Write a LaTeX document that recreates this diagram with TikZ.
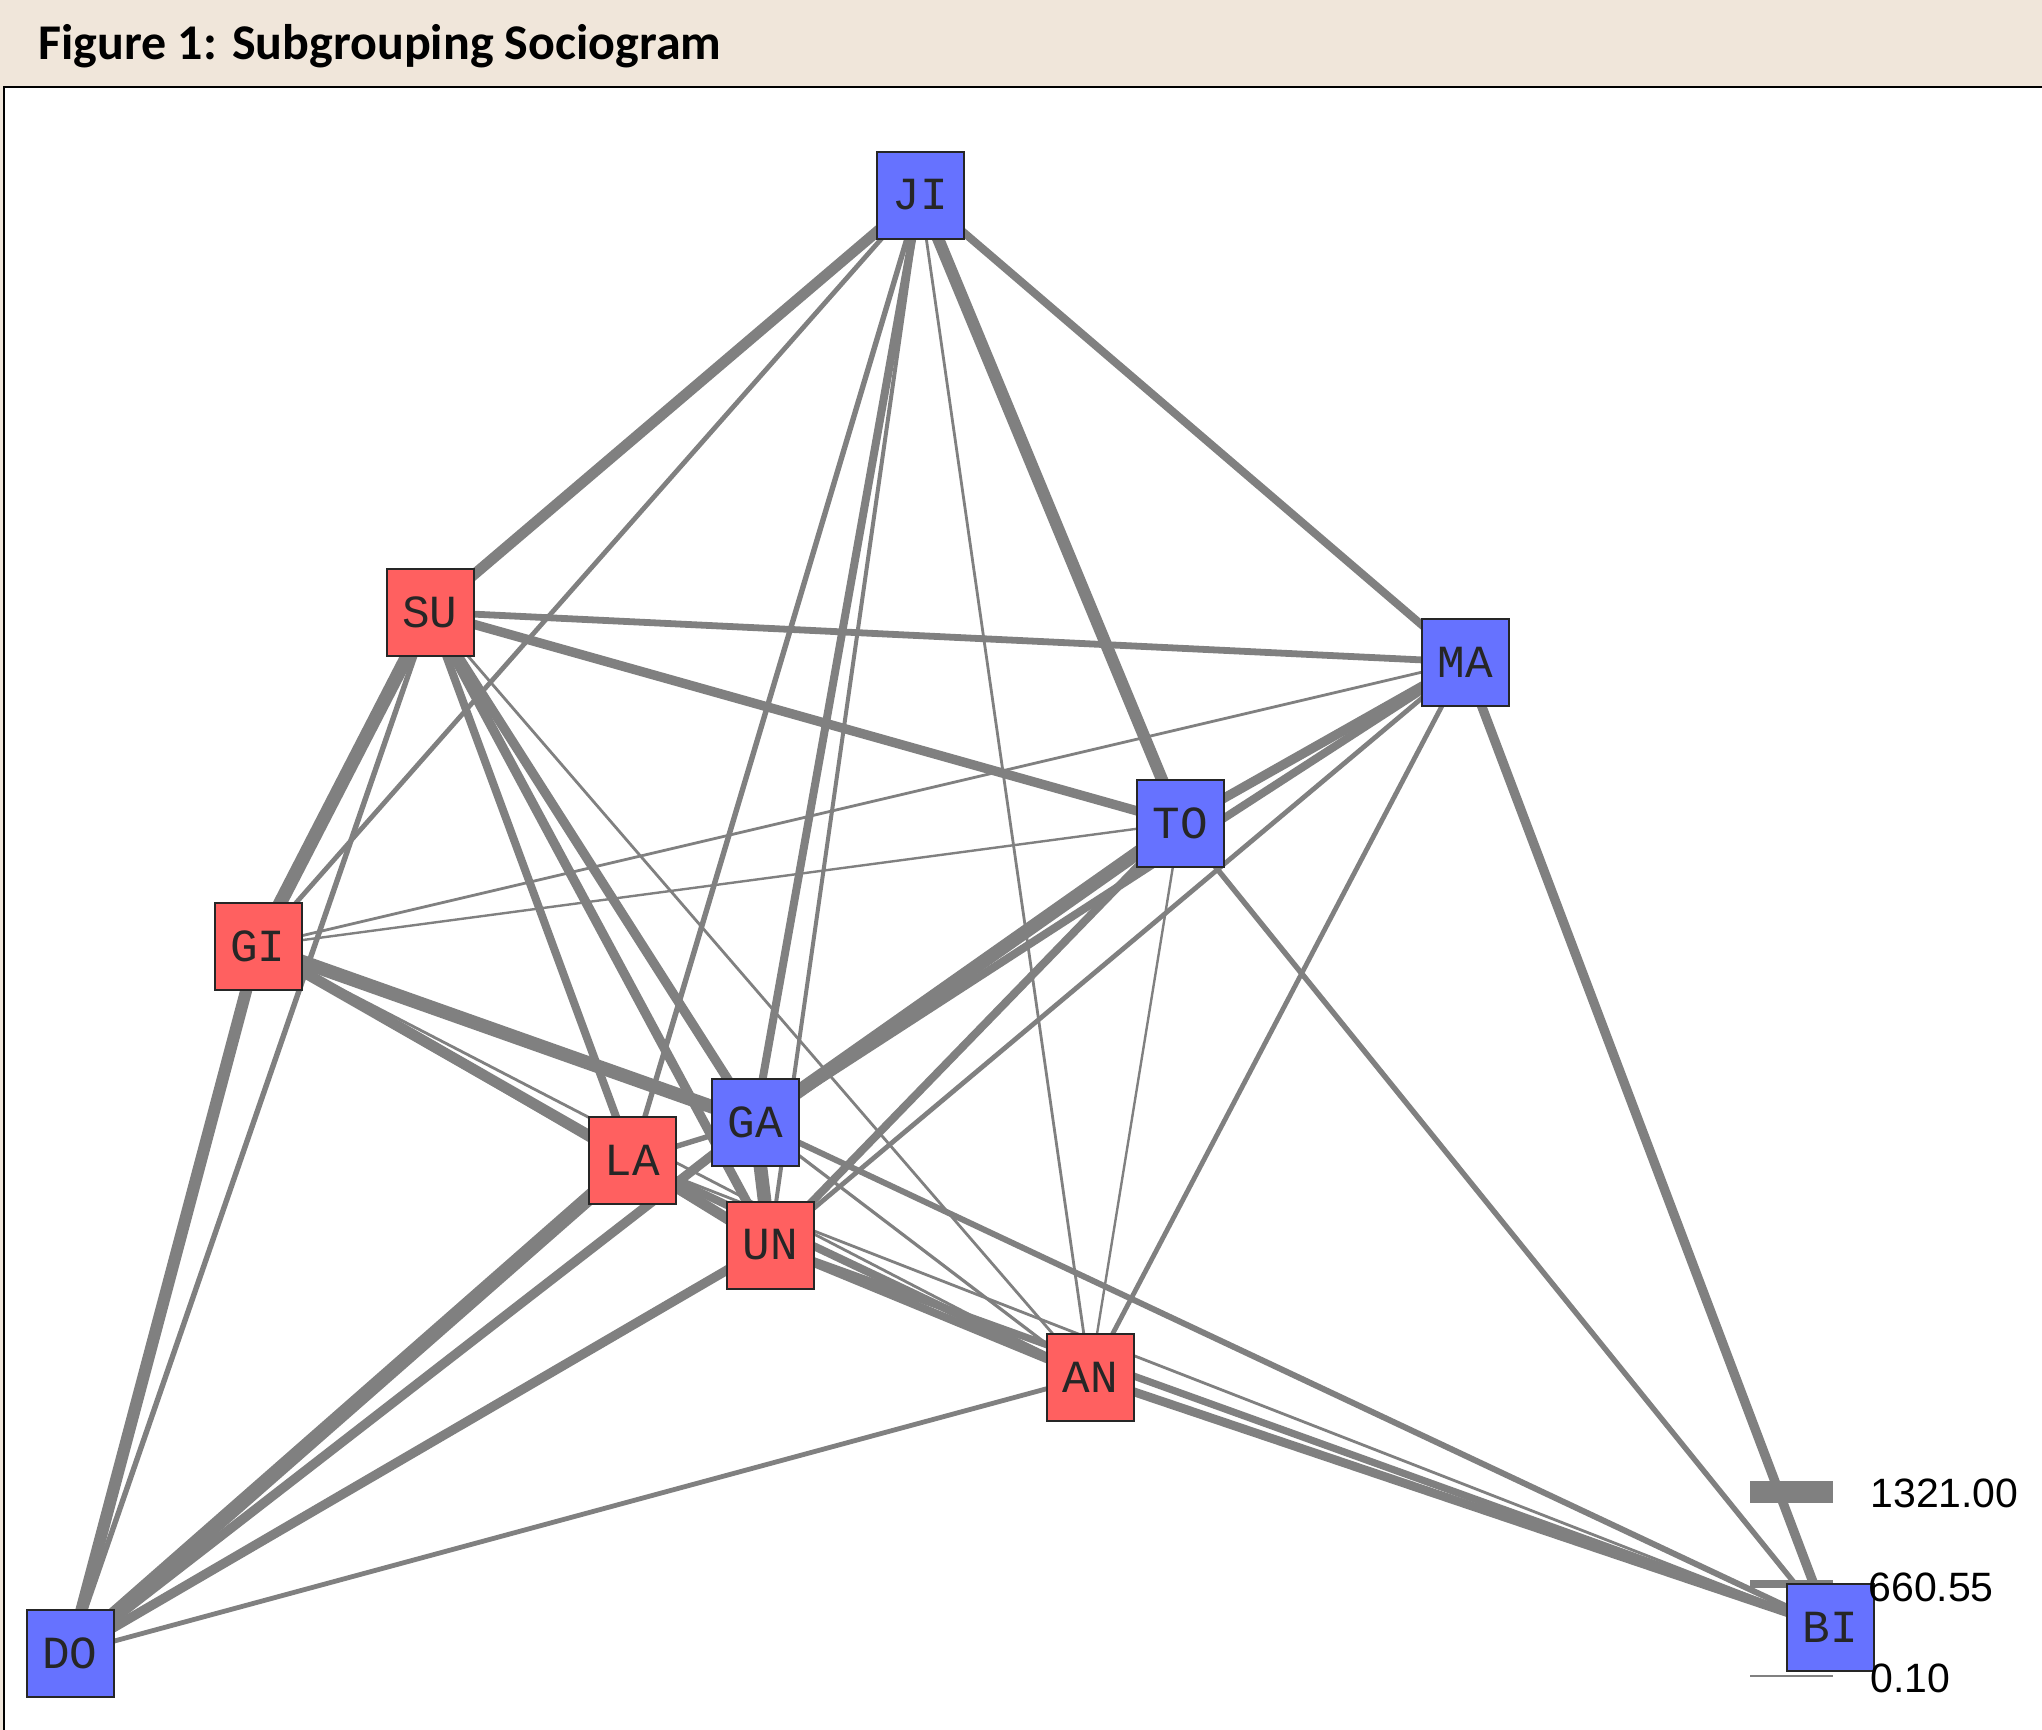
\documentclass[tikz,border=0pt]{standalone}
\usepackage{fontspec}
\setmainfont{Liberation Sans}
\newfontfamily\titlefont{Carlito}
\newfontfamily\labelfont{Liberation Mono}
\pgfdeclarelayer{bgl}
\pgfdeclarelayer{edgel}
\pgfsetlayers{bgl,edgel,main}
\definecolor{beige}{RGB}{240,230,218}
\definecolor{nred}{RGB}{255,96,96}
\definecolor{nblue}{RGB}{102,114,255}
\definecolor{egray}{RGB}{128,128,128}
\begin{document}
\begin{tikzpicture}[x=0.5pt,y=-0.5pt,
  person/.style={draw=black!85, line width=1pt, minimum size=43.5pt, inner sep=0pt,
    font=\labelfont\fontsize{23}{23}\selectfont, text=black!85},
  redp/.style={person, fill=nred},
  bluep/.style={person, fill=nblue},
  tie/.style={draw=egray, line width=#1},
  legtext/.style={anchor=west, font=\fontsize{20.5}{20.5}\selectfont, text=black, inner sep=0pt}
]
\useasboundingbox (0,0) rectangle (2042,1730);
\begin{pgfonlayer}{bgl}
\fill[beige] (0,0) rectangle (2042,1730);
\filldraw[fill=white, draw=black, line width=1pt] (4,87) rectangle (2060,1750);
\end{pgfonlayer}
\node[anchor=base west, inner sep=0pt, font=\titlefont\bfseries\fontsize{25}{25}\selectfont] (title) at (38,59) {Figure 1: Subgrouping Sociogram};

\node[bluep] (JI) at (920,195) {JI};
\node[redp]  (SU) at (430,612) {SU};
\node[bluep] (MA) at (1465,662) {MA};
\node[bluep] (TO) at (1180,823) {TO};
\node[redp]  (GI) at (258,946) {GI};
\node[bluep] (GA) at (755,1122) {GA};
\node[redp]  (LA) at (632,1160) {LA};
\node[redp]  (UN) at (770,1245) {UN};
\node[redp]  (AN) at (1090,1377) {AN};
\node[bluep] (DO) at (70,1653) {DO};
\node[bluep] (BI) at (1830,1627) {BI};

\coordinate (l1a) at (1750,1492); \coordinate (l1b) at (1833,1492);
\coordinate (l2a) at (1750,1584); \coordinate (l2b) at (1833,1584);
\coordinate (l3a) at (1750,1676); \coordinate (l3b) at (1833,1676);

\begin{pgfonlayer}{edgel}
% JI
\draw[tie=5.4pt] (JI.center) -- (SU.center);
\draw[tie=2.4pt] (JI.center) -- (GI.center);
\draw[tie=2.7pt] (JI.center) -- (LA.center);
\draw[tie=4pt]   (JI.center) -- (GA.center);
\draw[tie=2pt]   (JI.center) -- (UN.center);
\draw[tie=1.4pt] (JI.center) -- (AN.center);
\draw[tie=6pt]   (JI.center) -- (TO.center);
\draw[tie=4pt]   (JI.center) -- (MA.center);
% SU
\draw[tie=3.4pt] (SU.center) -- (MA.center);
\draw[tie=4.7pt] (SU.center) -- (TO.center);
\draw[tie=6.8pt] (SU.center) -- (GI.center);
\draw[tie=2.7pt] (SU.center) -- (DO.center);
\draw[tie=4pt]   (SU.center) -- (LA.center);
\draw[tie=4.7pt] (SU.center) -- (GA.center);
\draw[tie=4.7pt] (SU.center) -- (UN.center);
\draw[tie=1.4pt] (SU.center) -- (AN.center);
% MA
\draw[tie=1.4pt] (MA.center) -- (GI.center);
\draw[tie=4.7pt] (MA.center) -- (TO.center);
\draw[tie=4pt]   (MA.center) -- (GA.center);
\draw[tie=2.4pt] (MA.center) -- (UN.center);
\draw[tie=2.4pt] (MA.center) -- (AN.center);
\draw[tie=4.7pt] (MA.center) -- (BI.center);
% TO
\draw[tie=1.2pt] (TO.center) -- (GI.center);
\draw[tie=6.8pt] (TO.center) -- (GA.center);
\draw[tie=4pt]   (TO.center) -- (UN.center);
\draw[tie=1.2pt] (TO.center) -- (AN.center);
\draw[tie=2.7pt] (TO.center) -- (BI.center);
% GI
\draw[tie=6.8pt] (GI.center) -- (GA.center);
\draw[tie=5.4pt] (GI.center) -- (LA.center);
\draw[tie=2.7pt] (GI.center) -- (UN.center);
\draw[tie=1.4pt] (GI.center) -- (AN.center);
\draw[tie=6pt]   (GI.center) -- (DO.center);
% GA
\draw[tie=2.7pt] (GA.center) -- (LA.center);
\draw[tie=6.8pt] (GA.center) -- (UN.center);
\draw[tie=1.6pt] (GA.center) -- (AN.center);
\draw[tie=3pt]   (GA.center) -- (BI.center);
\draw[tie=4.7pt] (GA.center) -- (DO.center);
% LA
\draw[tie=5.4pt] (LA.center) -- (UN.center);
\draw[tie=4pt]   (LA.center) -- (AN.center);
\draw[tie=1.4pt] (LA.center) -- (BI.center);
\draw[tie=7.4pt] (LA.center) -- (DO.center);
% UN
\draw[tie=4pt]   (UN.center) -- (AN.center);
\draw[tie=3.6pt] (UN.center) -- (BI.center);
\draw[tie=4.7pt] (UN.center) -- (DO.center);
% AN
\draw[tie=4.4pt] (AN.center) -- (BI.center);
\draw[tie=2.4pt] (AN.center) -- (DO.center);
% legend bars
\draw[tie=11pt]  (l1a) -- (l1b);
\draw[tie=4.2pt] (l2a) -- (l2b);
\draw[tie=0.8pt] (l3a) -- (l3b);
\end{pgfonlayer}

\node[legtext] (t1) at (1870,1493) {1321.00};
\node[legtext] (t2) at (1868,1587) {660.55};
\node[legtext] (t3) at (1870,1678) {0.10};
\end{tikzpicture}
\end{document}
